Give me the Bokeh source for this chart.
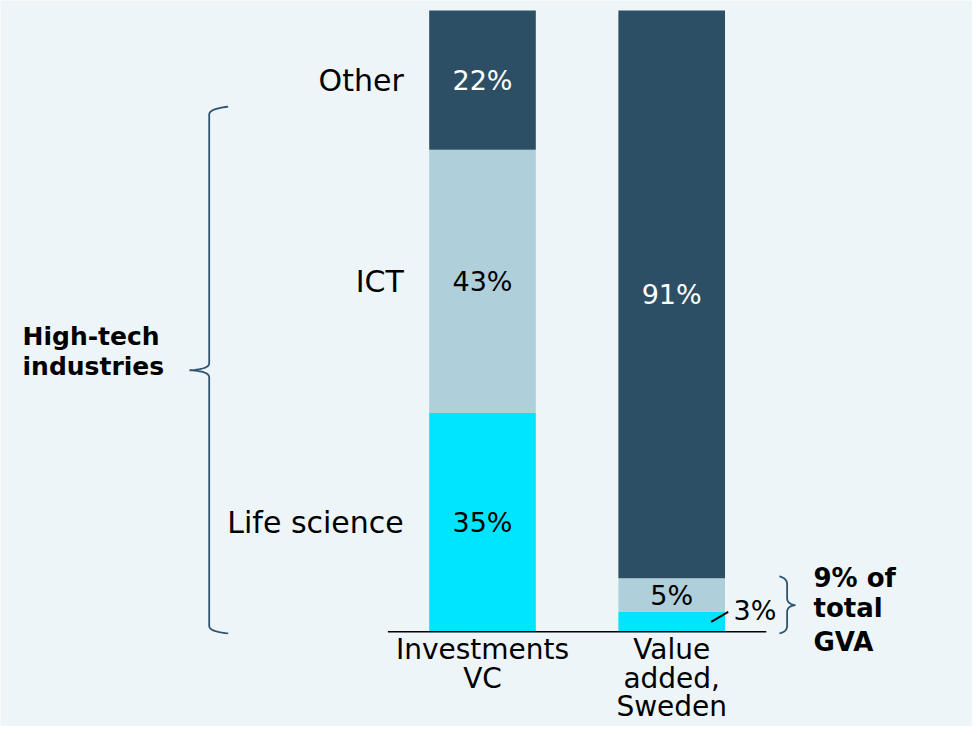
import numpy as np
from bokeh.plotting import figure
from bokeh.models import ColumnDataSource, Label, Range1d
from bokeh.embed import file_html
from bokeh.resources import INLINE
from bokeh.core.properties import value

# ---------------- data ----------------
categories = ["Investments\nVC", "Value\nadded,\nSweden"]
segments = ["Life science", "ICT", "Other"]
investments_vc = [35.2, 42.4, 22.4]
value_added = [3.2, 5.4, 91.4]
investments_labels = ["35%", "43%", "22%"]
value_added_labels = ["3%", "5%", "91%"]
left_note = ["High-tech", "industries"]
right_note = ["9% of", "total", "GVA"]

# ---------------- style ----------------
BG = "#EDF5F8"
COLORS = ["#00E5FF", "#AFCFDA", "#2D4F65"]
TEXT_COLORS = ["black", "black", "white"]
BRACE_COLOR = "#2E5470"
FONT = "DejaVu Sans"

W, H = 972, 726
PX = 189.2     # px per x unit
PY = 6.213     # px per y unit
X0 = 1 - 482 / PX
X1 = X0 + W / PX
Y1 = 100 + 10 / PY
Y0 = Y1 - H / PY
BAR_W = 0.5635

p = figure(width=W, height=H, output_backend="svg", toolbar_location=None,
           x_range=Range1d(X0, X1), y_range=Range1d(Y0, Y1),
           min_border=0)
p.background_fill_color = BG
p.border_fill_color = BG
p.outline_line_color = None
p.grid.visible = False
p.axis.visible = False

xs = [1, 2]
src = ColumnDataSource(dict(x=xs,
                            **{s: [investments_vc[i], value_added[i]] for i, s in enumerate(segments)}))
p.vbar_stack(segments, x="x", width=BAR_W, color=COLORS, line_color=None, source=src)

# baseline (category axis line)
p.segment(x0=[xs[0] - 0.5], y0=[0], x1=[xs[-1] + 0.5], y1=[0],
          line_color="black", line_width=1.6)

# category labels below the baseline
LINE_STEP = 28.5 / PY
for cx, cat in zip(xs, categories):
    lines = cat.split("\n")
    p.text(x=[cx] * len(lines), y=[-2.9 - k * LINE_STEP for k in range(len(lines))],
           text=lines, text_font=value(FONT), text_font_size="28px",
           text_color="black", text_align="center", text_baseline="middle")

# percentage labels
for bx, vals, labs in [(1, investments_vc, investments_labels), (2, value_added, value_added_labels)]:
    cum = np.cumsum([0] + vals)
    for i, (v, lab) in enumerate(zip(vals, labs)):
        mid = (cum[i] + cum[i + 1]) / 2
        if v < 4:
            right = bx + BAR_W / 2
            p.segment(x0=[right - 0.073], y0=[v / 2], x1=[right + 0.017], y1=[v],
                      line_color="black", line_width=2)
            p.text(x=[right + 0.045], y=[cum[i + 1] + 0.2], text=[lab],
                   text_font=value(FONT), text_font_size="27px", text_color="black",
                   text_align="left", text_baseline="middle")
        else:
            p.text(x=[bx], y=[mid], text=[lab], text_font=value(FONT),
                   text_font_size="27px", text_color=TEXT_COLORS[i],
                   text_align="center", text_baseline="middle")

# segment names left of first bar
cum1 = np.cumsum([0] + investments_vc)
mids1 = [(cum1[i] + cum1[i + 1]) / 2 for i in range(len(segments))]
p.text(x=[0.584] * len(segments), y=mids1, text=segments, text_font=value(FONT),
       text_font_size="30px", text_color="black", text_align="right",
       text_baseline="middle")


# braces
def qbez(p0, p1, p2, n=14):
    t = np.linspace(0, 1, n)[:, None]
    p0, p1, p2 = map(np.array, (p0, p1, p2))
    return (1 - t) ** 2 * p0 + 2 * (1 - t) * t * p1 + t ** 2 * p2


def brace(x_spine, y_top, y_bot, d, arm, tip):
    top, bot = y_top * PY, y_bot * PY
    mid = (top + bot) / 2
    s = -d
    parts = [
        qbez((arm * s, top + 2), (0, top), (0, top - 6)),
        qbez((0, mid + 7), (0, mid + 1), (d * tip, mid)),
        qbez((d * tip, mid), (0, mid - 1), (0, mid - 7)),
        qbez((0, bot + 6), (0, bot), (arm * s, bot - 1.5)),
    ]
    pts = np.vstack(parts)
    return x_spine + pts[:, 0] / PX, pts[:, 1] / PY


bx_, by_ = brace(-0.4445, 84.2, 0.0, -1, 19, 19.7)
p.line(bx_, by_, line_color=BRACE_COLOR, line_width=1.8)
bx_, by_ = brace(2.610, value_added[0] + value_added[1], 0.0, 1, 7.7, 8.3)
p.line(bx_, by_, line_color=BRACE_COLOR, line_width=1.8)

for txt, ym in zip(left_note, [47.6, 42.7]):
    p.add_layout(Label(x=-1.431, y=ym, text=txt, text_font=FONT, text_font_size="25px",
                       text_font_style="bold", text_color="black",
                       text_align="left", text_baseline="middle"))
for txt, ym in zip(right_note, [8.7, 3.85, -1.6]):
    p.add_layout(Label(x=2.7495, y=ym, text=txt, text_font=FONT, text_font_size="26px",
                       text_font_style="bold", text_color="black",
                       text_align="left", text_baseline="middle"))

open("out.html", "w").write(file_html(p, INLINE))
